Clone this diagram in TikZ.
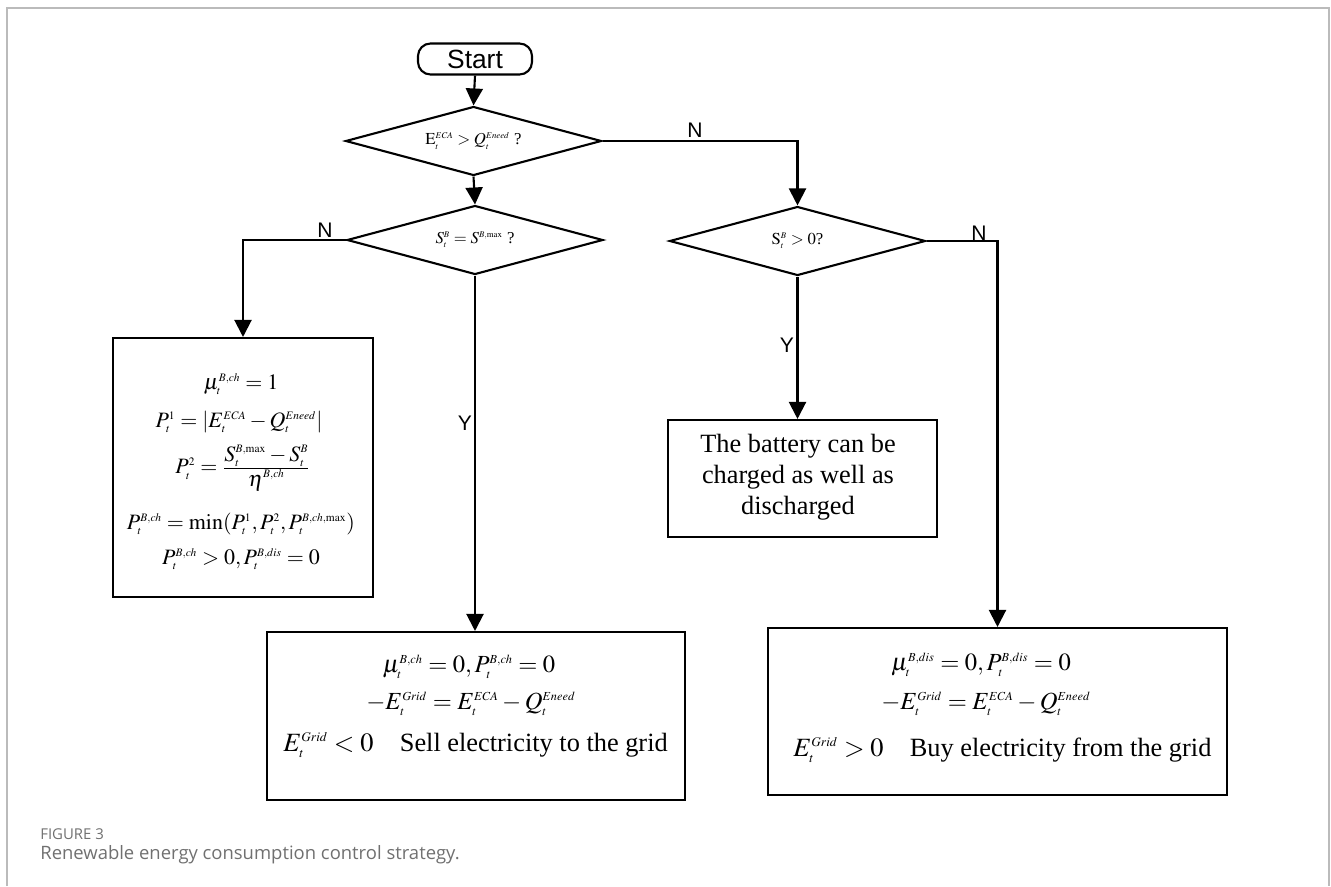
\documentclass[tikz,border=0pt]{standalone}
\usepackage{mathptmx}
\usepackage[no-math]{fontspec}
\setmainfont{Liberation Serif}
\newfontfamily\arialf{Liberation Sans}
\newfontfamily\capf{Open Sans}
\usetikzlibrary{shapes.geometric,arrows.meta}
\DeclareMathSizes{9.5}{9.5}{5}{4}
\DeclareMathSizes{12.5}{12.5}{6.5}{5}
\DeclareMathSizes{14}{14}{7}{5}
\DeclareMathSizes{15}{15}{7.5}{5.5}
\definecolor{framegray}{HTML}{BBBBBB}
\definecolor{capgray}{HTML}{707070}
\tikzset{
  ln/.style={line width=1.2pt, draw=black},
  arr/.style={ln, -{Triangle[length=0.34cm,width=0.34cm]}},
  dec/.style={diamond, draw, line width=1.2pt, inner sep=0pt, aspect=3.8,
    minimum width=5.12cm, minimum height=1.38cm, font=\fontsize{9.5}{11}\selectfont},
  boxst/.style={draw, line width=1.2pt, inner sep=0pt},
  ltxt/.style={inner sep=0pt, font=\fontsize{12.5}{15}\selectfont},
  txt/.style={inner sep=0pt, font=\fontsize{14}{16}\selectfont},
  big/.style={inner sep=0pt, font=\fontsize{15}{17.6}\selectfont},
  yn/.style={inner sep=0pt, font=\arialf\fontsize{12}{14}\selectfont},
  frame/.style={draw=framegray, line width=0.8pt}
}
\begin{document}
\begin{tikzpicture}[x=0.02cm,y=-0.02cm]
\useasboundingbox (0,0) rectangle (1331,886);
\draw[frame] (7,886) -- (7,8) -- (1329,8) -- (1329,886);

% start
\node[boxst, rounded corners=0.25cm, minimum width=2.28cm, minimum height=0.62cm,
      font=\arialf\fontsize{15}{17}\selectfont] (start) at (475,59) {Start};

% decisions
\node[dec] (d1) at (473.5,141) {$\mathrm{E}_t^{ECA} > Q_t^{Eneed}$ ?};
\node[dec] (d2) at (475,240) {$S_t^{B} = S^{B,\max}$ ?};
\node[dec] (d3) at (797.5,241) {$\mathrm{S}_t^{B} > 0$?};

% boxes
\node[boxst, minimum width=5.2cm, minimum height=5.18cm] (lb) at (243,467.5) {};
\node[ltxt] (l1) at (241,384) {$\mu_t^{B,ch} = 1$};
\node[ltxt] (l2) at (239,422) {$P_t^{1} = |E_t^{ECA} - Q_t^{Eneed}|$};
\node[ltxt] (l3) at (243,468) {$P_t^{2} = {\textstyle{\displaystyle S_t^{B,\max} - S_t^{B}\over\displaystyle \eta^{B,ch}}}$};
\node[ltxt] (l4) at (241,524) {$P_t^{B,ch} = \min(P_t^{1}, P_t^{2}, P_t^{B,ch,\max})$};
\node[ltxt] (l5) at (241,559) {$P_t^{B,ch} > 0, P_t^{B,dis} = 0$};

\node[boxst, minimum width=5.38cm, minimum height=2.34cm] (bat) at (802.5,478.5) {};
\node[big, align=center] (battxt) at (798,477) {The battery can be\\charged as well as\\discharged};

\node[boxst, minimum width=8.36cm, minimum height=3.36cm] (mb) at (476,716) {};
\node[txt] (m1) at (469,667) {$\mu_t^{B,ch} = 0, P_t^{B,ch} = 0$};
\node[txt] (m2) at (471,704) {$-E_t^{Grid} = E_t^{ECA} - Q_t^{Eneed}$};
\node[big, anchor=west] (m3) at (283,745) {$E_t^{Grid} < 0$\quad Sell electricity to the grid};

\node[boxst, minimum width=9.18cm, minimum height=3.34cm] (rb) at (997.5,711.5) {};
\node[txt] (r1) at (981,665) {$\mu_t^{B,dis} = 0, P_t^{B,dis} = 0$};
\node[txt] (r2) at (986,704) {$-E_t^{Grid} = E_t^{ECA} - Q_t^{Eneed}$};
\node[big, anchor=west] (r3) at (793,750) {$E_t^{Grid} > 0$\quad Buy electricity from the grid};

% connectors
\draw[arr] (start.south) -- (d1.north);
\draw[arr] (d1.south) -- (d2.north);
\draw[arr] (d1.east) -| (d3.north);
\draw[arr] (d2.west) -| (lb.north);
\draw[arr] (d2.south) -- (d2.south |- mb.north);
\draw[arr] (d3.south) -- (d3.south |- bat.north);
\draw[arr] (d3.east) -| (rb.north);

% labels
\node[yn] (n1) at (695,130) {N};
\node[yn] (n2) at (325,230) {N};
\node[yn] (n3) at (979,233) {N};
\node[yn] (y1) at (465,423) {Y};
\node[yn] (y2) at (787,345) {Y};

% caption
\node[anchor=west, inner sep=0pt, text=capgray, font=\capf\fontsize{8.5}{10}\selectfont] (cap1) at (40,834) {FIGURE 3};
\node[anchor=west, inner sep=0pt, text=capgray, font=\capf\fontsize{10.5}{12}\selectfont] (cap2) at (40,855) {Renewable energy consumption control strategy.};
\end{tikzpicture}
\end{document}
